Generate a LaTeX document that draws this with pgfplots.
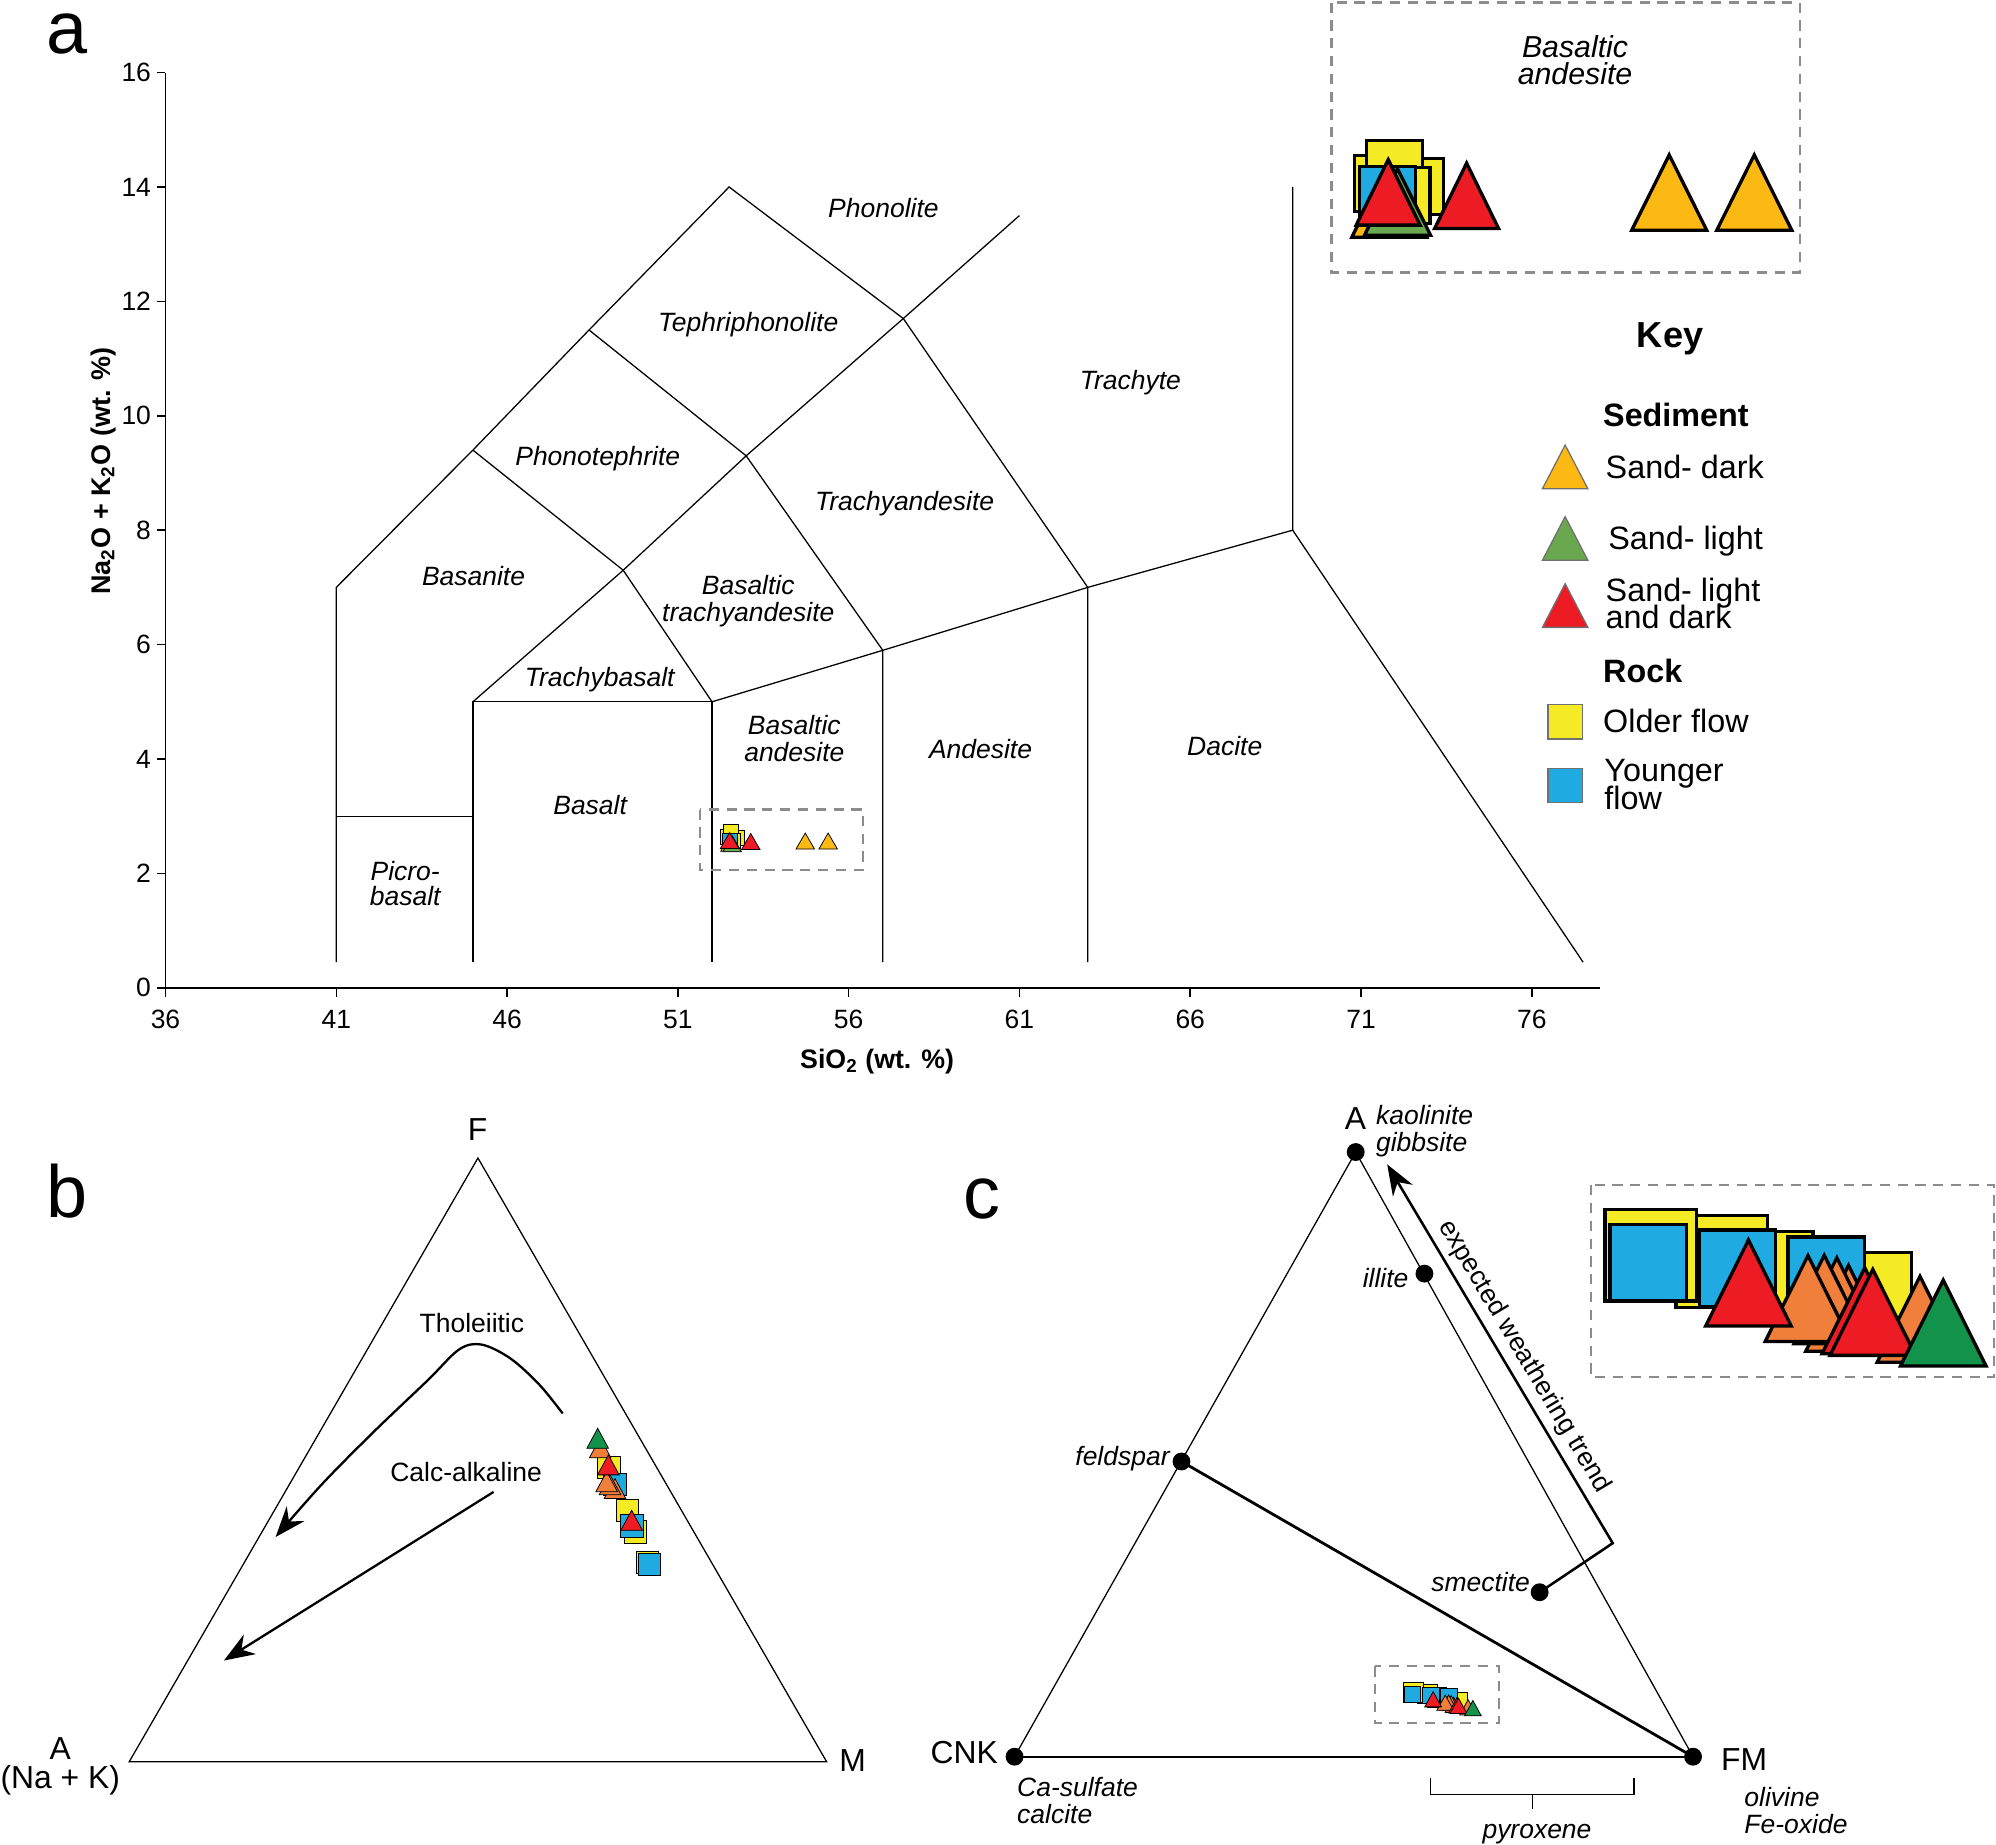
\documentclass[border=0pt]{standalone}
\usepackage{fontspec}
\setmainfont{Liberation Sans}
\usepackage{pgfplots}
\pgfplotsset{compat=1.18}
\usetikzlibrary{arrows.meta}

\definecolor{gold}{HTML}{FDB913}
\definecolor{lgreen}{HTML}{6AA84F}
\definecolor{dgreen}{HTML}{12924A}
\definecolor{cred}{HTML}{ED1C24}
\definecolor{cyell}{HTML}{F4EB24}
\definecolor{cblue}{HTML}{1FABE2}
\definecolor{corange}{HTML}{F07F3C}
\definecolor{boxgray}{HTML}{8C8C8C}
\definecolor{keygray}{HTML}{707070}
\newcommand\fs[1]{\fontsize{#1}{#1}\selectfont}

\pgfplotsset{
  sq/.style n args={3}{only marks, mark=square*, mark size=#2, mark options={fill=#1, draw=black, line width=#3}},
  tri/.style n args={4}{only marks, mark=triangle*, mark size=#2, mark options={fill=#1, draw=black, line width=#3, yscale=#4}},
  ksq/.style={only marks, mark=square*, mark size=6.75pt, mark options={fill=#1, draw=keygray, line width=0.5pt}},
  ktri/.style={only marks, mark=triangle*, mark size=10.3pt, mark options={fill=#1, draw=keygray, line width=0.5pt, yscale=1.11}},
  panel/.style={scale only axis, anchor=south west, hide axis, clip=false},
}

\begin{document}
\begin{tikzpicture}
% ================= panel a : TAS =================
\begin{axis}[at={(65pt,-388pt)}, anchor=south west, scale only axis,
  width=563.5pt, height=359.5pt, xmin=36, xmax=78, ymin=0, ymax=16,
  axis x line*=bottom, axis y line*=left,
  axis line style={line width=0.6pt,black},
  xtick={36,41,46,51,56,61,66,71,76}, xticklabels={36,41,46,51,56,61,66,71,76},
  ytick={0,2,4,6,8,10,12,14,16}, yticklabels={0,2,4,6,8,10,12,14,16},
  tick align=outside, major tick length=3.5pt,
  tick style={line width=0.6pt,black},
  tick label style={font=\fs{10.4}, inner sep=2pt},
  xticklabel style={yshift=-3pt},
  clip=false]
\draw[line width=0.5pt] (41,0.45) -- (41,7) -- (45,9.4) -- (48.4,11.5) -- (52.5,14) -- (57.6,11.7) -- (63,7) -- (63,0.45);
\draw[line width=0.5pt] (41,3) -- (45,3);
\draw[line width=0.5pt] (45,0.45) -- (45,5) -- (52,5) -- (52,0.45);
\draw[line width=0.5pt] (45,5) -- (49.4,7.3) -- (53,9.3) -- (57.6,11.7) -- (61,13.5);
\draw[line width=0.5pt] (45,9.4) -- (49.4,7.3) -- (52,5) -- (57,5.9) -- (63,7) -- (69,8) -- (69,14);
\draw[line width=0.5pt] (48.4,11.5) -- (53,9.3) -- (57,5.9) -- (57,0.45);
\draw[line width=0.5pt] (69,8) -- (77.5,0.45);
% data
\addplot[sq={cyell}{2.95pt}{0.3pt}] coordinates {(52.731,2.623) (52.47,2.641) (52.566,2.727) (52.624,2.574)};
\addplot[sq={cblue}{2.95pt}{0.3pt}] coordinates {(52.51,2.577)};
\addplot[tri={gold}{4.2pt}{0.3pt}{1.0}] coordinates {(52.525,2.479) (54.73,2.519) (55.40,2.519)};
\addplot[tri={lgreen}{4.2pt}{0.3pt}{1.0}] coordinates {(52.59,2.474)};
\addplot[tri={cred}{4.2pt}{0.3pt}{1.0}] coordinates {(52.516,2.529) (53.134,2.510)};
\end{axis}

% ================= panel a : inset =================
\begin{axis}[at={(523pt,-107pt)}, panel, width=184pt, height=106pt,
  xmin=52.07, xmax=55.76, ymin=2.14, ymax=3.66]
\addplot[sq={cyell}{11pt}{1.3pt}] coordinates {(52.731,2.623) (52.47,2.641) (52.566,2.727) (52.624,2.574)};
\addplot[sq={cblue}{11pt}{1.3pt}] coordinates {(52.51,2.577)};
\addplot[tri={gold}{17pt}{1.3pt}{1.16}] coordinates {(52.525,2.479) (54.73,2.519) (55.40,2.519)};
\addplot[tri={lgreen}{15pt}{1.3pt}{1.16}] coordinates {(52.59,2.474)};
\addplot[tri={cred}{14.5pt}{1.3pt}{1.18}] coordinates {(52.516,2.529) (53.134,2.510)};
\end{axis}

% ================= key markers (axis in picture units) =================
\begin{axis}[at={(0pt,-724.5pt)}, panel, width=784pt, height=724.5pt,
  xmin=0, xmax=1568, ymin=0, ymax=1449, y dir=reverse]
\addplot[ktri=gold] coordinates {(1229.5,372.5)};
\addplot[ktri=lgreen] coordinates {(1229.5,428.7)};
\addplot[ktri=cred] coordinates {(1229.5,481.4)};
\addplot[ksq=cyell] coordinates {(1229.5,567)};
\addplot[ksq=cblue] coordinates {(1229.5,617)};
\end{axis}

% ================= panel b : AFM =================
\begin{axis}[at={(50.75pt,-692pt)}, panel, width=273.95pt, height=237.15pt,
  xmin=0, xmax=100, ymin=0, ymax=86.6]
\draw[line width=0.5pt] (0,0) -- (100,0) -- (50,86.6) -- cycle;
\addplot[smooth, tension=0.55, no marks, line width=0.9pt, -{Stealth[length=12pt,width=9pt]}] coordinates {
 (62.15,49.96) (58.84,54.05) (54.74,57.79) (50.61,59.82) (47.33,59.16) (42.80,54.72) (34.97,47.24) (27.56,39.73) (20.99,32.24)};
\addplot[no marks, line width=0.9pt, -{Stealth[length=12pt,width=9pt]}] coordinates {(52.25,38.71) (13.58,14.52)};
\addplot[sq={cyell}{4.4pt}{0.3pt}] coordinates {(74.27,28.61) (72.59,32.96) (71.40,36.04) (68.77,42.21)};
\addplot[sq={cblue}{4.4pt}{0.3pt}] coordinates {(74.59,28.32) (72.09,33.82) (69.63,39.80)};
\addplot[tri={corange}{4.9pt}{0.3pt}{1.07}] coordinates {(67.53,44.55) (69.65,38.71) (68.94,39.26) (68.46,39.70)};
\addplot[tri={cred}{4.9pt}{0.3pt}{1.07}] coordinates {(68.70,42.11) (72.04,34.16)};
\addplot[tri={dgreen}{4.9pt}{0.3pt}{1.07}] coordinates {(67.17,45.92)};
\end{axis}

% ================= panel c : A-CNK-FM =================
\begin{axis}[at={(398.5pt,-690pt)}, panel, width=266.5pt, height=237.5pt,
  xmin=0, xmax=100, ymin=0, ymax=100]
\draw[line width=0.5pt] (0,0) -- (50.28,100) -- (100,0);
\draw[line width=0.9pt] (0,0) -- (100,0);
\draw[line width=1.1pt] (24.60,48.82) -- (100,0);
\draw[line width=1pt, -{Stealth[length=12pt,width=9pt]}] (77.39,27.2) -- (88.16,35.31) -- (54.92,97.96);
\addplot[only marks, mark=*, mark size=3.3pt, black] coordinates {(0,0) (100,0) (50.28,100) (24.60,48.82) (60.41,79.89) (77.39,27.2)};
\addplot[sq={cyell}{3.9pt}{0.3pt}] coordinates {(65.21,9.05) (62.25,9.82) (60.89,10.40) (58.75,10.63)};
\addplot[sq={cblue}{3.2pt}{0.3pt}] coordinates {(64.03,9.89) (61.36,10.15) (58.67,10.35)};
\addplot[tri={corange}{3.8pt}{0.3pt}{1.05}] coordinates {(66.85,7.75) (64.70,8.15) (64.35,8.43) (63.97,8.52) (63.48,8.51)};
\addplot[tri={cred}{3.8pt}{0.3pt}{1.05}] coordinates {(61.69,9.08) (65.19,8.06) (65.43,8.00)};
\addplot[tri={dgreen}{3.8pt}{0.3pt}{1.05}] coordinates {(67.55,7.61)};
\end{axis}

% ================= panel c : inset =================
\begin{axis}[at={(625pt,-540.9pt)}, panel, width=158.25pt, height=75.4pt,
  xmin=56.96, xmax=69.08, ymin=6.15, ymax=13.2]
\addplot[sq={cyell}{18pt}{1.3pt}] coordinates {(65.21,9.05) (62.25,9.82) (60.89,10.40) (58.75,10.63)};
\addplot[sq={cblue}{15pt}{1.3pt}] coordinates {(64.03,9.89) (61.36,10.15) (58.67,10.35)};
\addplot[tri={corange}{19.4pt}{1.3pt}{1.16}] coordinates {(66.85,7.75) (64.70,8.15) (64.35,8.43) (63.97,8.52) (63.48,8.51)};
\addplot[tri={cred}{19.4pt}{1.3pt}{1.16}] coordinates {(61.69,9.08) (65.19,8.06) (65.43,8.00)};
\addplot[tri={dgreen}{19.4pt}{1.3pt}{1.16}] coordinates {(67.55,7.61)};
\end{axis}

% ================= text and frames (picture units = reference pixels) =================
\begin{scope}[x=0.5pt,y=-0.5pt,
  Li/.style={inner sep=0pt,text height=7.45pt,text depth=0pt,font=\fs{10.4}\itshape},
  Lr/.style={inner sep=0pt,text height=7.45pt,text depth=0pt,font=\fs{10.4}},
  Lv/.style={inner sep=0pt,text height=8.95pt,text depth=0pt,font=\fs{12.5}},
  Lk/.style={inner sep=0pt,text height=9.1pt,text depth=0pt,font=\fs{12.7},anchor=west},
  Lkb/.style={inner sep=0pt,text height=9.1pt,text depth=0pt,font=\fs{12.7}\bfseries,anchor=west},
  dbox/.style={draw=boxgray,line width=0.9pt,dash pattern=on 4pt off 3pt}]
\useasboundingbox (0,0) rectangle (1568,1449);
% panel letters
\node[anchor=base,inner sep=0pt,font=\fs{29}] at (53,42) {a};
\node[anchor=base,inner sep=0pt,font=\fs{29}] at (53,956.3) {b};
\node[anchor=base,inner sep=0pt,font=\fs{29}] at (771,957) {c};
% axis titles a
\node[inner sep=0pt,text height=7.6pt,text depth=0pt,font=\fs{10.5}\bfseries] at (689,832) {SiO\textsubscript{2} (wt. \%)};
\node[rotate=90,inner sep=0pt,text height=7.6pt,text depth=0pt,font=\fs{10.6}\bfseries] at (79,370) {Na\textsubscript{2}O + K\textsubscript{2}O (wt. \%)};
% region labels
\node[Li] at (694,163.6) {Phonolite};
\node[Li] at (587.8,253) {Tephriphonolite};
\node[Li] at (888,298.7) {Trachyte};
\node[Li] at (469.6,358.2) {Phonotephrite};
\node[Li] at (710.6,393.6) {Trachyandesite};
\node[Li] at (372,452.6) {Basanite};
\node[Li] at (587.8,459.7) {Basaltic};
\node[Li] at (587.8,480.5) {trachyandesite};
\node[Li] at (471.1,531.6) {Trachybasalt};
\node[Li] at (624,569.9) {Basaltic};
\node[Li] at (624,590.6) {andesite};
\node[Li] at (770.3,588.6) {Andesite};
\node[Li] at (962.1,585.7) {Dacite};
\node[Li] at (463.6,632.7) {Basalt};
\node[Li] at (318.3,684.3) {Picro-};
\node[Li] at (318.3,704.2) {basalt};
% boxes a
\draw[dbox] (550,636) rectangle (678,683.4);
\draw[dbox] (1046,2) rectangle (1414,214);
\node[inner sep=0pt,text height=8.5pt,text depth=0pt,font=\fs{11.9}\itshape] at (1237.3,36.7) {Basaltic};
\node[inner sep=0pt,text height=8.5pt,text depth=0pt,font=\fs{11.9}\itshape] at (1237.3,58.1) {andesite};
% key
\node[inner sep=0pt,text height=10.2pt,text depth=0pt,font=\fs{14.2}\bfseries] at (1312,263) {Key};
\node[Lkb] at (1259,325.8) {Sediment};
\node[Lk] at (1261,367) {Sand- dark};
\node[Lk] at (1263,422.6) {Sand- light};
\node[Lk] at (1261,463.2) {Sand- light};
\node[Lk] at (1261,484.8) {and dark};
\node[Lkb] at (1259,526.7) {Rock};
\node[Lk] at (1259,566.5) {Older flow};
\node[Lk] at (1260,605.2) {Younger};
\node[Lk] at (1260,626.8) {flow};
% panel b labels
\node[Lv] at (375.2,887.3) {F};
\node[Lv] at (47.4,1373.6) {A};
\node[Lv] at (47.4,1396) {(Na + K)};
\node[Lv] at (669.7,1382.8) {M};
\node[Lr] at (370.7,1039.5) {Tholeiitic};
\node[Lr] at (366.2,1156) {Calc-alkaline};
% panel c labels
\node[Lv] at (1064.9,878.3) {A};
\node[Li,anchor=west] at (1080.6,876) {kaolinite};
\node[Li,anchor=west] at (1080.6,897.4) {gibbsite};
\node[Li,anchor=east] at (1106.8,1003.6) {illite};
\node[Li,anchor=east] at (919.2,1143.5) {feldspar};
\node[Li,anchor=east] at (1202.2,1243.1) {smectite};
\node[Lv] at (757.5,1376.4) {CNK};
\node[Lv,anchor=west] at (1351.6,1381.8) {FM};
\node[Li,anchor=west] at (798.7,1404) {Ca-sulfate};
\node[Li,anchor=west] at (798.7,1425.1) {calcite};
\node[Li] at (1207.4,1436.6) {pyroxene};
\node[Li,anchor=west] at (1370,1411.7) {olivine};
\node[Li,anchor=west] at (1370,1432.8) {Fe-oxide};
\node[Lr,rotate=-59.2] at (1199.3,1064.8) {expected weathering trend};
\draw[line width=0.6pt] (1123.6,1396.4) -- (1123.6,1409.8) -- (1283.5,1409.8) -- (1283.5,1396.4);
\draw[line width=0.6pt] (1203.8,1409.8) -- (1203.8,1421.3);
\draw[dbox] (1080,1309) rectangle (1177.8,1353.7);
\draw[dbox] (1250,931) rectangle (1566.5,1081.8);
\end{scope}
\end{tikzpicture}
\end{document}
